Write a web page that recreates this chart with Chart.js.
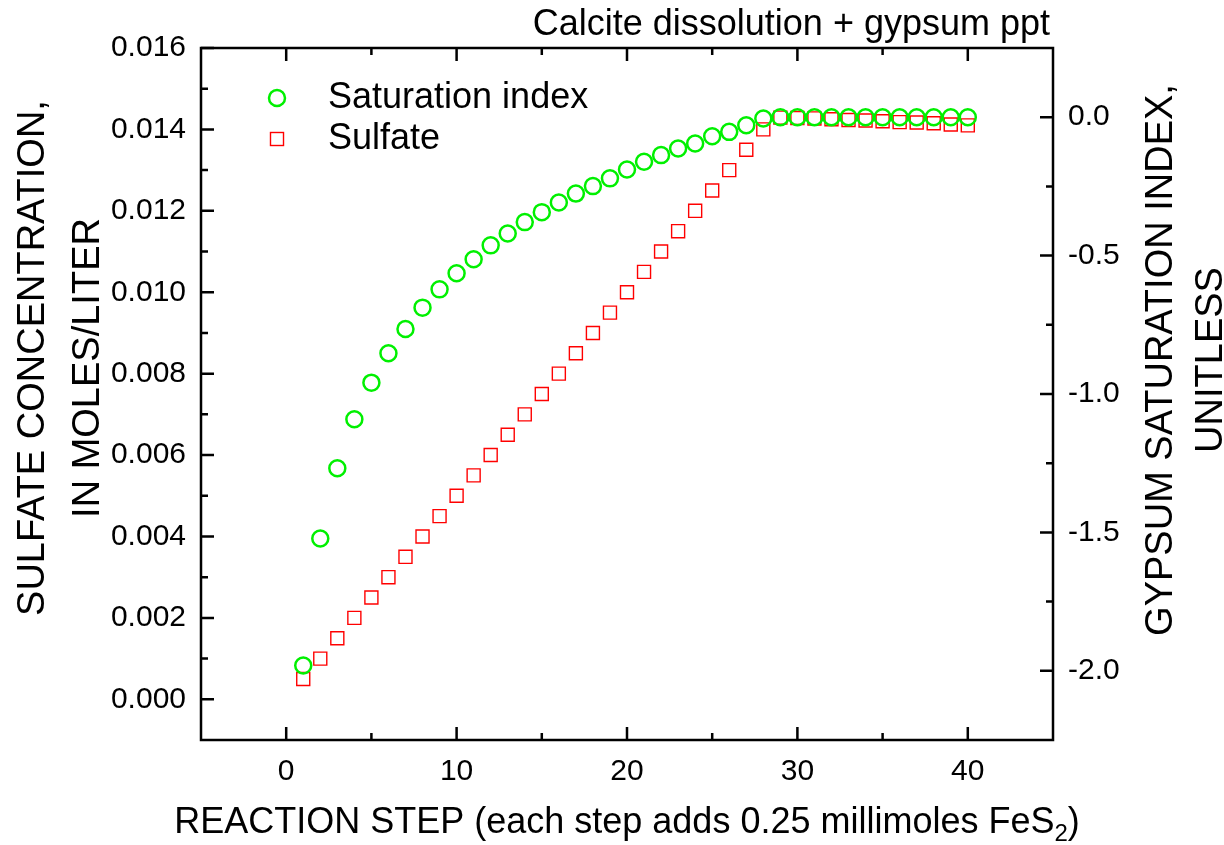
<!DOCTYPE html>
<html>
<head>
<meta charset="utf-8">
<script src="https://cdn.jsdelivr.net/npm/chart.js@4.4.1/dist/chart.umd.min.js"></script>
<style>
  html, body { margin: 0; padding: 0; background: #fff; }
  #wrap { width: 1224px; height: 845px; }
</style>
</head>
<body>
<div id="wrap"><canvas id="c" width="1224" height="845"></canvas></div>
<script>
// reaction steps (each adds 0.25 mmol FeS2)
const steps = [1, 2, 3, 4, 5, 6, 7, 8, 9, 10, 11, 12, 13, 14, 15, 16, 17, 18, 19, 20,
  21, 22, 23, 24, 25, 26, 27, 28, 29, 30, 31, 32, 33, 34, 35, 36, 37, 38, 39, 40];
// gypsum saturation index (right axis)
const satIndex = [-1.981, -1.522, -1.268, -1.091, -0.959, -0.853, -0.765, -0.688, -0.622, -0.564,
  -0.513, -0.463, -0.420, -0.379, -0.343, -0.308, -0.276, -0.249, -0.221, -0.189,
  -0.161, -0.137, -0.113, -0.095, -0.069, -0.053, -0.029, -0.005, 0.0, 0.0,
  0.0, 0.0, 0.0, 0.0, 0.0, 0.0, 0.0, 0.0, 0.0, 0.0];
// sulfate, mol/L (left axis)
const sulfate = [0.0005, 0.0010, 0.0015, 0.0020, 0.0025, 0.0030, 0.0035, 0.0040, 0.0045, 0.0050,
  0.0055, 0.0060, 0.0065, 0.0070, 0.0075, 0.0080, 0.0085, 0.0090, 0.0095, 0.0100,
  0.0105, 0.0110, 0.0115, 0.0120, 0.0125, 0.0130, 0.0135, 0.0140, 0.01429, 0.01428,
  0.01427, 0.01425, 0.01423, 0.01422, 0.01420, 0.01418, 0.01417, 0.01415, 0.01412, 0.01410];

const xTicks = [0, 10, 20, 30, 40];
const sulfateTicks = [0, 0.002, 0.004, 0.006, 0.008, 0.010, 0.012, 0.014, 0.016];
const siTicks = [-2.0, -1.5, -1.0, -0.5, 0.0];

const FONT = "'Liberation Sans', Arial, sans-serif";

const toPts = ys => steps.map((x, i) => ({ x, y: ys[i] }));

// frame, inward ticks, titles, legend
const decor = {
  id: 'decor',
  afterDraw(chart) {
    const ctx = chart.ctx;
    const a = chart.chartArea;
    const sx = chart.scales.x, sy = chart.scales.y, sy2 = chart.scales.y2;
    const MAJ = 13, MIN = 7;
    ctx.save();
    ctx.strokeStyle = '#000';
    ctx.lineWidth = 2.5;
    ctx.beginPath();
    // x ticks bottom + top
    for (let v = 0; v <= 40; v += 5) {
      const px = sx.getPixelForValue(v);
      const len = v % 10 === 0 ? MAJ : MIN;
      ctx.moveTo(px, a.bottom); ctx.lineTo(px, a.bottom - len);
      ctx.moveTo(px, a.top); ctx.lineTo(px, a.top + len);
    }
    // left ticks
    for (let k = 0; k <= 16; k++) {
      const py = sy.getPixelForValue(k * 0.001);
      const len = k % 2 === 0 ? MAJ : MIN;
      ctx.moveTo(a.left, py); ctx.lineTo(a.left + len, py);
    }
    // right ticks
    for (let k = -8; k <= 0; k++) {
      const py = sy2.getPixelForValue(k * 0.25);
      const len = k % 2 === 0 ? MAJ : MIN;
      ctx.moveTo(a.right, py); ctx.lineTo(a.right - len, py);
    }
    ctx.stroke();
    ctx.strokeRect(a.left, a.top, a.right - a.left, a.bottom - a.top);

    ctx.fillStyle = '#000';
    // chart title
    ctx.font = '36px ' + FONT;
    ctx.textAlign = 'right';
    ctx.textBaseline = 'alphabetic';
    ctx.fillText('Calcite dissolution + gypsum ppt', 1050, 35);

    // x title with subscript
    ctx.font = '36px ' + FONT;
    const main = 'REACTION STEP (each step adds 0.25 millimoles FeS';
    const wMain = ctx.measureText(main).width;
    ctx.font = '24px ' + FONT;
    const wSub = ctx.measureText('2').width;
    ctx.font = '36px ' + FONT;
    const wEnd = ctx.measureText(')').width;
    const x0 = (a.left + a.right) / 2 - (wMain + wSub + wEnd) / 2;
    ctx.textAlign = 'left';
    ctx.fillText(main, x0, 833);
    ctx.font = '24px ' + FONT;
    ctx.fillText('2', x0 + wMain, 841);
    ctx.font = '36px ' + FONT;
    ctx.fillText(')', x0 + wMain + wSub, 833);

    // y titles (rotated)
    const vtext = (txt, x, y) => {
      ctx.save();
      ctx.translate(x, y);
      ctx.rotate(-Math.PI / 2);
      ctx.textAlign = 'center';
      ctx.textBaseline = 'alphabetic';
      ctx.fillText(txt, 0, 0);
      ctx.restore();
    };
    ctx.font = '38px ' + FONT;
    vtext('SULFATE CONCENTRATION,', 44, 358);
    vtext('IN MOLES/LITER', 99, 368);
    vtext('GYPSUM SATURATION INDEX,', 1172, 360);
    vtext('UNITLESS', 1222, 360);

    // legend
    const ds0 = chart.data.datasets[0], ds1 = chart.data.datasets[1];
    ctx.lineWidth = ds0.borderWidth;
    ctx.strokeStyle = ds0.borderColor;
    ctx.beginPath();
    ctx.arc(277, 98, ds0.pointRadius, 0, Math.PI * 2);
    ctx.stroke();
    ctx.lineWidth = ds1.borderWidth;
    ctx.strokeStyle = ds1.borderColor;
    const s = ds1.pointRadius * Math.SQRT1_2;
    ctx.strokeRect(277 - s, 139 - s, 2 * s, 2 * s);
    ctx.fillStyle = '#000';
    ctx.font = '36px ' + FONT;
    ctx.textAlign = 'left';
    ctx.textBaseline = 'middle';
    ctx.fillText(ds0.label, 328, 98);
    ctx.fillText(ds1.label, 328, 139);
    ctx.restore();
  }
};

const tickFont = { family: FONT, size: 30 };

new Chart(document.getElementById('c'), {
  type: 'scatter',
  data: {
    datasets: [
      {
        label: 'Saturation index',
        data: toPts(satIndex),
        yAxisID: 'y2',
        pointStyle: 'circle',
        pointRadius: 8,
        borderColor: '#00f000',
        backgroundColor: 'rgba(0,0,0,0)',
        borderWidth: 2.5
      },
      {
        label: 'Sulfate',
        data: toPts(sulfate),
        yAxisID: 'y',
        pointStyle: 'rect',
        pointRadius: 9.2,
        borderColor: '#ff0000',
        backgroundColor: 'rgba(0,0,0,0)',
        borderWidth: 1.4
      }
    ]
  },
  options: {
    responsive: false,
    animation: false,
    devicePixelRatio: 1,
    layout: { padding: { top: 48, left: 0, right: 0, bottom: 0 } },
    plugins: { legend: { display: false }, tooltip: { enabled: false } },
    scales: {
      x: {
        type: 'linear', position: 'bottom', min: -5, max: 45,
        grid: { display: false, drawTicks: false },
        border: { display: false },
        afterBuildTicks: sc => { sc.ticks = xTicks.map(v => ({ value: v })); },
        afterFit: sc => { sc.height = 105; },
        ticks: { autoSkip: false, maxRotation: 0, padding: 14, color: '#000', font: tickFont,
          callback: v => String(v) }
      },
      y: {
        type: 'linear', position: 'left', min: -0.001, max: 0.016,
        grid: { display: false, drawTicks: false },
        border: { display: false },
        afterBuildTicks: sc => { sc.ticks = sulfateTicks.map(v => ({ value: v })); },
        afterFit: sc => { sc.width = 201; },
        ticks: { autoSkip: false, padding: 15, color: '#000', font: tickFont,
          callback: v => v.toFixed(3) }
      },
      y2: {
        type: 'linear', position: 'right', min: -2.25, max: 0.25,
        grid: { display: false, drawTicks: false },
        border: { display: false },
        afterBuildTicks: sc => { sc.ticks = siTicks.map(v => ({ value: v })); },
        afterFit: sc => { sc.width = 171; },
        ticks: { autoSkip: false, padding: 15, color: '#000', font: tickFont,
          callback: v => v.toFixed(1) }
      }
    }
  },
  plugins: [decor]
});
</script>
</body>
</html>
